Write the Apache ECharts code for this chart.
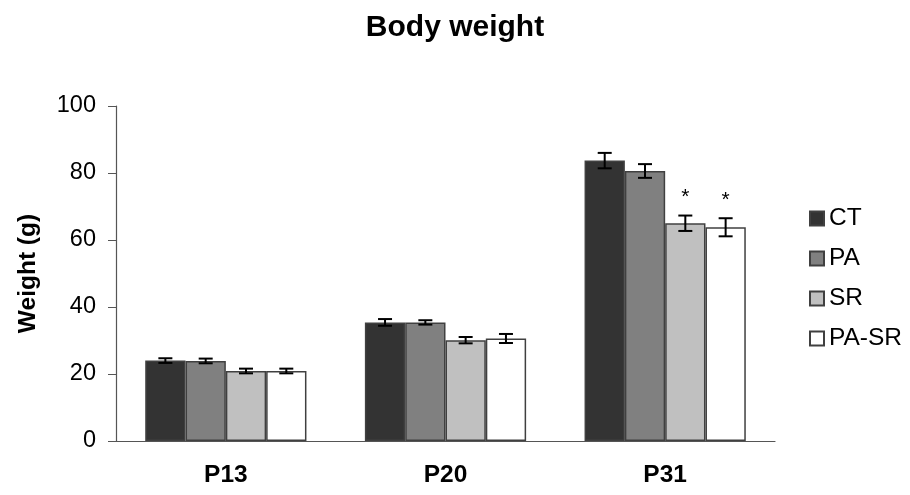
<!DOCTYPE html>
<html>
<head>
<meta charset="utf-8">
<script src="https://cdn.jsdelivr.net/npm/echarts@6/dist/echarts.min.js"></script>
<style>html,body{margin:0;padding:0;background:#fff}#c{width:910px;height:495px}</style>
</head>
<body>
<div id="c"></div>
<script>
var categories = ['P13', 'P20', 'P31'];
var seriesNames = ['CT', 'PA', 'SR', 'PA-SR'];
var ctValues = [24.0, 35.4, 83.7];
var ctErrors = [0.7, 1.0, 2.3];
var paValues = [23.9, 35.4, 80.6];
var paErrors = [0.7, 0.65, 2.05];
var srValues = [20.9, 30.1, 65.0];
var srErrors = [0.7, 0.95, 2.3];
var pasrValues = [20.9, 30.6, 63.8];
var pasrErrors = [0.7, 1.35, 2.7];
var ctSig = ['', '', ''];
var paSig = ['', '', ''];
var srSig = ['', '', '*'];
var pasrSig = ['', '', '*'];
var yTicks = [0, 20, 40, 60, 80, 100];

var FONT = '"Liberation Sans", Arial, sans-serif';
var colors = ['#333333', '#808080', '#c0c0c0', '#ffffff'];
var GAP = 0.266;
var groups = [
  [ctValues, ctErrors, ctSig],
  [paValues, paErrors, paSig],
  [srValues, srErrors, srSig],
  [pasrValues, pasrErrors, pasrSig]
];

function barSeries(k) {
  return {
    name: seriesNames[k], type: 'bar', data: groups[k][0],
    barGap: '0%', barCategoryGap: (GAP * 100) + '%',
    itemStyle: { color: colors[k], borderColor: '#404040', borderWidth: 1.5 },
    emphasis: { disabled: true }, z: 2
  };
}
function errSeries(k) {
  var vals = groups[k][0], errs = groups[k][1], sigs = groups[k][2];
  return {
    type: 'custom', silent: true, z: 5,
    data: vals.map(function (v, i) { return [i, v, errs[i]]; }),
    renderItem: function (params, api) {
      var ci = api.value(0), v = api.value(1), e = api.value(2);
      var bandW = api.size([1, 0])[0];
      var used = bandW * (1 - GAP);
      var barW = used / 4;
      var cx = api.coord([ci, 0])[0] - used / 2 + barW * (k + 0.5);
      var yT = api.coord([ci, v + e])[1];
      var yB = api.coord([ci, v - e])[1];
      var cap = 7;
      var st = { stroke: '#000', lineWidth: 2 };
      var children = [
        { type: 'line', shape: { x1: cx, y1: yT, x2: cx, y2: yB }, style: st },
        { type: 'line', shape: { x1: cx - cap, y1: yT, x2: cx + cap, y2: yT }, style: st },
        { type: 'line', shape: { x1: cx - cap, y1: yB, x2: cx + cap, y2: yB }, style: st }
      ];
      var s = sigs[params.dataIndex];
      if (s) {
        children.push({ type: 'text', style: { text: s, x: cx, y: yT - 18, align: 'center', verticalAlign: 'middle', font: '21px ' + FONT, fill: '#000' } });
      }
      return { type: 'group', children: children };
    }
  };
}

var chart = echarts.init(document.getElementById('c'), null, { renderer: 'canvas' });
chart.setOption({
  animation: false,
  backgroundColor: '#fff',
  title: {
    text: 'Body weight', left: 'center', top: 8,
    textStyle: { fontFamily: FONT, fontSize: 30, fontWeight: 'bold', color: '#000' }
  },
  legend: {
    data: seriesNames, orient: 'vertical', left: 804, top: 201,
    itemWidth: 14, itemHeight: 14, itemGap: 15, icon: 'rect',
    textStyle: { fontFamily: FONT, fontSize: 24.5, color: '#000' },
    selectedMode: false
  },
  grid: { left: 116, right: 135, top: 106, bottom: 54, containLabel: false },
  xAxis: {
    type: 'category', data: categories,
    axisLine: { lineStyle: { color: '#555', width: 1.2 } },
    axisTick: { length: 8, lineStyle: { color: '#555' } },
    axisLabel: { fontFamily: FONT, fontSize: 24.5, fontWeight: 'bold', color: '#000', margin: 22 }
  },
  yAxis: {
    type: 'value', min: yTicks[0], max: yTicks[yTicks.length - 1], interval: yTicks[1] - yTicks[0],
    name: 'Weight (g)', nameLocation: 'middle', nameRotate: 90, nameGap: 75,
    nameTextStyle: { fontFamily: FONT, fontSize: 24.5, fontWeight: 'bold', color: '#000' },
    axisLine: { show: true, lineStyle: { color: '#555', width: 1.2 } },
    axisTick: { show: true, length: 8, lineStyle: { color: '#555' } },
    splitLine: { show: false },
    axisLabel: { fontFamily: FONT, fontSize: 23.5, color: '#000', margin: 20 }
  },
  series: [barSeries(0), barSeries(1), barSeries(2), barSeries(3), errSeries(0), errSeries(1), errSeries(2), errSeries(3)]
});
</script>
</body>
</html>
